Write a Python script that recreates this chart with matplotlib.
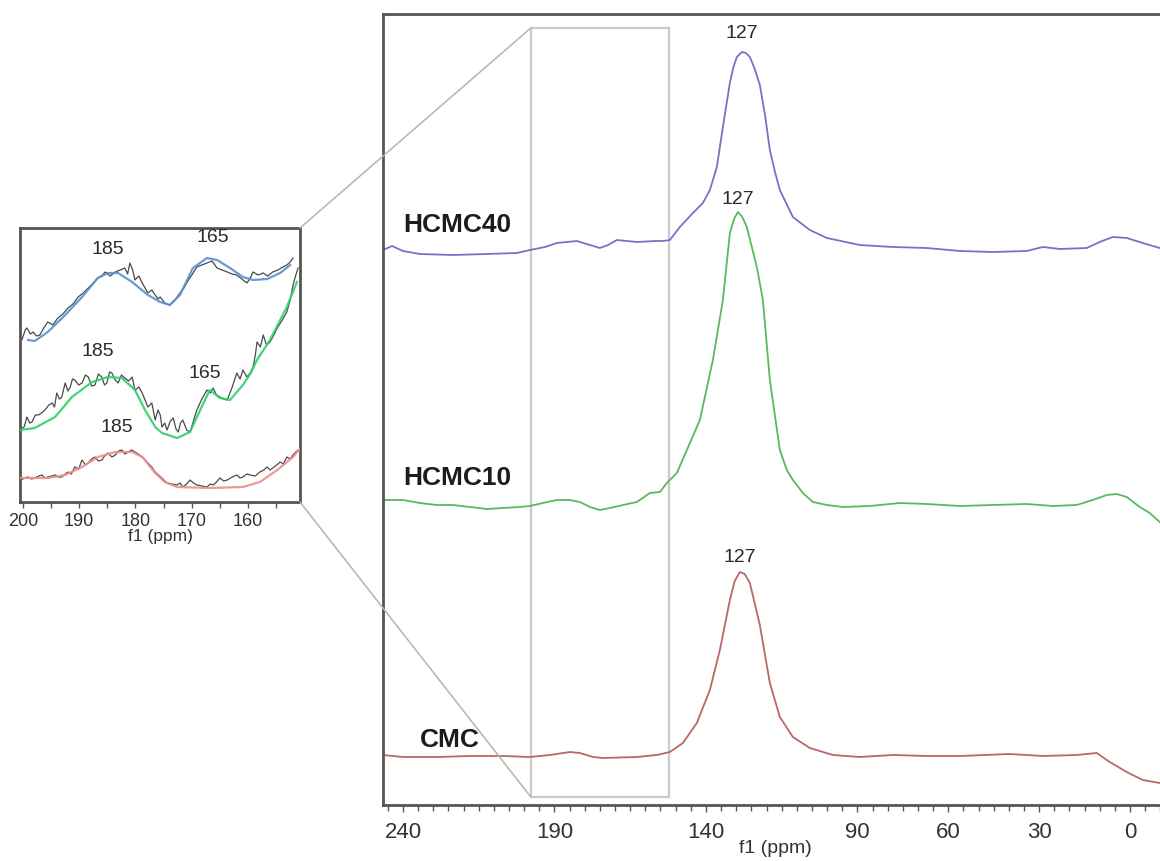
import matplotlib
matplotlib.use("Agg")
import matplotlib.pyplot as plt
from matplotlib import font_manager as fm
from matplotlib.patches import Rectangle, ConnectionPatch
from matplotlib.ticker import FixedLocator, MultipleLocator

# ---------------- data ----------------
# main spectra: chemical shift (ppm) and intensity relative to each baseline
hcmc40_ppm = [246.6, 243.6, 240.0, 234.4, 223.5, 212.3, 202.4, 198.1, 193.1, 189.2,
              182.6, 178.3, 175.0, 172.3, 169.4, 162.8, 156.8, 154.2, 151.9, 148.6,
              144.3, 141.0, 138.7, 136.4, 134.4, 133.2, 132.1, 130.9, 129.8, 128.1,
              126.8, 125.5, 124.0, 122.2, 120.5, 118.9, 117.2, 115.6, 111.3, 105.7,
              100.1, 89.2, 78.3, 67.1, 56.2, 45.3, 34.1, 28.8, 23.2, 14.3,
              10.0, 5.7, 1.1, -4.2, -9.8]
hcmc40_int = [2, 6, 1, -2, -3, -2, -1, 2, 5, 9,
              11, 7, 4, 7, 12, 10, 11, 11, 12, 25,
              39, 49, 62, 85, 125, 148, 169, 185, 195, 200,
              199, 195, 184, 167, 137, 102, 80, 62, 35, 22,
              14, 7, 5, 4, 1, 0, 1, 5, 3, 4,
              10, 15, 14, 9, 4]

hcmc10_ppm = [246.6, 240.0, 234.4, 228.8, 223.5, 217.9, 212.3, 207.0, 201.4, 198.1,
              193.8, 189.2, 184.9, 181.6, 178.3, 175.0, 171.7, 167.4, 162.8, 158.5,
              155.2, 152.9, 149.6, 146.3, 142.0, 137.7, 134.4, 132.1, 130.6, 129.4,
              128.0, 126.5, 123.2, 121.2, 118.9, 115.6, 113.3, 111.3, 108.0, 104.7,
              100.1, 94.8, 85.9, 76.0, 67.1, 56.2, 45.3, 34.1, 25.5, 17.6,
              12.3, 7.7, 4.4, 1.1, -3.2, -6.5, -9.8]
hcmc10_int = [5, 5, 2, 0, 0, -2, -4, -3, -2, -1,
              2, 5, 5, 3, -2, -5, -3, 0, 3, 12,
              13, 22, 32, 55, 85, 145, 205, 272, 287, 293,
              288, 278, 238, 205, 125, 55, 35, 25, 12, 3,
              0, -2, -1, 2, 1, -1, 0, 1, -1, 0,
              5, 10, 11, 8, -2, -8, -17]

cmc_ppm = [246.6, 240.0, 228.8, 217.9, 207.0, 198.1, 191.5, 184.9, 181.6, 177.3,
           174.0, 162.8, 156.2, 151.9, 147.6, 143.0, 138.7, 135.4, 132.1, 130.5,
           128.8, 127.2, 125.5, 122.2, 118.9, 115.6, 111.3, 105.7, 98.1, 89.2,
           78.3, 67.1, 56.2, 39.7, 28.8, 17.6, 11.0, 6.7, 1.1, -4.2, -9.8]
cmc_int = [2, 0, 0, 1, 1, 0, 2, 5, 4, 0,
           -1, 0, 2, 5, 14, 34, 67, 107, 157, 176,
           185, 183, 174, 132, 74, 40, 20, 9, 2, 0,
           2, 1, 1, 3, 1, 2, 4, -5, -15, -23, -26]

sample_names = ["HCMC40", "HCMC10", "CMC"]
peak_label = "127"
main_ticks = [240, 190, 140, 90, 60, 30, 0]

# inset (zoom 200-150 ppm): raw data and fitted curves
in40_ppm = [200.2, 199.6, 199.3, 198.7, 198.2, 197.6, 197.0, 196.3, 195.6, 194.7,
            193.8, 192.9, 192.0, 191.1, 190.2, 189.3, 188.4, 187.5, 186.7, 186.0,
            185.4, 184.5, 183.6, 182.7, 181.9, 181.4, 181.0, 180.5, 180.1, 179.4,
            178.8, 178.3, 177.8, 177.1, 176.5, 176.0, 175.6, 174.8, 173.9, 173.0,
            172.1, 171.4, 170.8, 170.0, 169.1, 168.2, 167.3, 166.4, 165.5, 164.6,
            163.7, 162.8, 162.0, 161.1, 160.2, 159.6, 159.1, 158.2, 157.3, 156.5,
            155.6, 154.7, 153.8, 153.1, 152.5, 152.0]
in40_int = [0, 10, 12, 6, 8, 4, 5, 12, 18, 15,
            22, 26, 32, 36, 43, 47, 52, 57, 62, 64,
            68, 64, 68, 70, 72, 66, 77, 70, 60, 64,
            57, 52, 47, 50, 45, 41, 43, 37, 35, 40,
            47, 52, 58, 65, 73, 75, 77, 79, 72, 70,
            68, 66, 65, 61, 57, 62, 68, 65, 67, 64,
            68, 70, 73, 75, 78, 82]
fit40_ppm = [199.1, 197.9, 195.6, 192.5, 189.5, 186.7, 184.9, 183.1, 180.6, 177.8,
             175.6, 173.9, 172.1, 169.8, 167.3, 165.5, 163.2, 160.9, 159.1, 156.6,
             154.3, 152.5]
fit40_int = [0, -1, 8, 25, 43, 62, 67, 67, 58, 45,
             38, 35, 45, 72, 82, 80, 72, 63, 60, 61,
             67, 75]

in10_ppm = [200.4, 199.8, 199.3, 198.8, 198.4, 197.8, 197.3, 196.7, 196.1, 195.4,
            194.8, 194.4, 194.0, 193.5, 193.1, 192.5, 192.0, 191.6, 191.2, 190.8,
            190.1, 189.5, 188.9, 188.4, 187.8, 187.2, 186.6, 186.0, 185.5, 185.1,
            184.6, 184.2, 183.6, 183.1, 182.5, 181.9, 181.2, 180.6, 180.1, 179.4,
            178.8, 178.3, 177.8, 177.1, 176.5, 176.0, 175.6, 175.3, 174.8, 174.4,
            173.8, 173.3, 172.8, 172.4, 172.0, 171.6, 170.9, 170.3, 169.7, 169.1,
            168.2, 167.3, 166.7, 166.2, 165.6, 165.0, 164.3, 163.7, 162.8, 162.0,
            161.4, 160.9, 160.2, 159.6, 159.1, 158.7, 158.4, 157.8, 157.3, 156.7,
            156.1, 155.4, 154.8, 153.9, 153.1, 152.5, 152.0, 151.5, 151.1]
in10_int = [6, 8, 18, 12, 13, 20, 20, 22, 25, 30,
            32, 28, 42, 36, 38, 52, 44, 48, 56, 55,
            50, 52, 60, 58, 49, 50, 61, 58, 50, 52,
            63, 62, 55, 52, 60, 57, 54, 58, 45, 48,
            42, 35, 28, 32, 15, 25, 20, 8, 12, 5,
            14, 17, 6, 3, 12, 15, 5, 3, 14, 25,
            36, 45, 42, 47, 40, 38, 36, 35, 48, 62,
            56, 65, 58, 62, 68, 80, 93, 88, 100, 90,
            93, 100, 107, 115, 123, 135, 150, 160, 167]
fit10_ppm = [200.5, 197.9, 194.3, 191.3, 187.7, 184.9, 182.4, 180.1, 178.3, 176.5,
             175.3, 172.6, 170.3, 168.5, 166.8, 165.0, 163.2, 160.9, 159.5, 158.4,
             156.1, 153.1, 151.3]
fit10_int = [5, 7, 18, 38, 53, 58, 57, 45, 25, 8,
             2, -3, 3, 25, 45, 37, 35, 50, 62, 75,
             95, 128, 153]

incmc_ppm = [200.4, 199.7, 199.1, 198.5, 197.9, 197.2, 196.6, 196.1, 195.6, 194.9,
             194.3, 193.7, 193.1, 192.5, 192.0, 191.4, 190.8, 190.1, 189.5, 188.9,
             188.4, 187.8, 187.2, 186.6, 186.0, 185.5, 184.9, 184.2, 183.6, 183.0,
             182.4, 181.9, 181.3, 180.7, 180.1, 179.5, 178.8, 178.3, 177.8, 177.1,
             176.5, 175.9, 175.3, 174.8, 174.4, 173.5, 172.6, 172.1, 171.6, 170.9,
             170.3, 169.7, 169.1, 168.2, 167.3, 166.7, 166.2, 165.6, 165.0, 164.3,
             163.7, 162.8, 162.0, 161.4, 160.9, 160.2, 159.6, 158.7, 157.9, 157.2,
             156.6, 156.1, 155.6, 154.9, 154.3, 153.7, 153.1, 152.5, 152.0, 151.5, 151.1]
incmc_int = [7, 9, 10, 8, 9, 11, 12, 9, 10, 11,
             12, 10, 10, 13, 15, 13, 20, 18, 27, 22,
             24, 28, 30, 26, 27, 31, 34, 30, 32, 36,
             37, 33, 35, 37, 35, 33, 30, 27, 24, 20,
             15, 12, 9, 6, 4, 3, 2, 4, 0, 3,
             7, 4, 2, 1, 0, 3, 2, 5, 9, 6,
             7, 10, 12, 9, 10, 13, 12, 11, 15, 17,
             20, 17, 19, 22, 25, 23, 30, 28, 32, 35, 37]
fitcmc_ppm = [200.5, 195.6, 192.5, 189.5, 186.7, 183.6, 180.6, 178.8, 176.5, 174.8,
              172.6, 166.8, 160.9, 157.9, 154.8, 152.0, 150.8]
fitcmc_int = [9, 9, 12, 20, 30, 35, 35, 30, 14, 5,
              0, -1, 0, 5, 17, 30, 38]

inset_ticks = [200, 190, 180, 170, 160]
zoom_range = (197.8, 152.2)

# ---------------- styling ----------------
names = {f.name for f in fm.fontManager.ttflist}
narrow = "Liberation Sans Narrow" if "Liberation Sans Narrow" in names else "Liberation Sans"
plt.rcParams["font.family"] = ["Liberation Sans", "DejaVu Sans"]

c_blue, c_green, c_red = "#7474c4", "#5cb85c", "#b86868"
f_blue, f_green, f_red = "#5b8fd0", "#2fcf6a", "#f08c8c"
c_raw = "#4a4a4a"
spine_c = "#555555"

fig = plt.figure(figsize=(11.6, 8.61), dpi=100)

# ---------------- main axes ----------------
W, H = 1160.0, 861.0
ax = fig.add_axes([383 / W, 1 - 805 / H, 784 / W, 791 / H])
ax.set_xlim(246.6, -12.2)
ax.set_ylim(0, 791)

offsets = [553, 300, 48]
series = [(hcmc40_ppm, hcmc40_int, c_blue),
          (hcmc10_ppm, hcmc10_int, c_green),
          (cmc_ppm, cmc_int, c_red)]
for (p, v, c), off in zip(series, offsets):
    ax.plot(p, [off + i for i in v], color=c, lw=1.3, solid_joinstyle="round")

# sample labels
ax.text(240.0, 580, sample_names[0], fontsize=19, fontweight="bold", color="#1c1c1c",
        ha="left", va="center")
ax.text(240.0, 327, sample_names[1], fontsize=19, fontweight="bold", color="#1c1c1c",
        ha="left", va="center")
ax.text(234.4, 65, sample_names[2], fontsize=19, fontweight="bold", color="#1c1c1c",
        ha="left", va="center")

# peak labels
for xp, yp in [(128.1, 772), (129.4, 605), (128.8, 248)]:
    ax.text(xp, yp, peak_label, fontsize=14, color="#2a2a2a", ha="center", va="center")

# zoom box
ax.add_patch(Rectangle((zoom_range[1], 8), zoom_range[0] - zoom_range[1], 769,
                       fill=False, edgecolor="#c9c9c9", lw=1.6))

for s in ["left", "top", "bottom"]:
    ax.spines[s].set_color(spine_c)
    ax.spines[s].set_linewidth(2.0)
ax.spines["right"].set_visible(False)
ax.set_yticks([])
ax.xaxis.set_major_locator(FixedLocator(main_ticks))
ax.xaxis.set_minor_locator(MultipleLocator(5))
ax.tick_params(axis="x", which="both", direction="out", color=spine_c, width=1.0)
ax.tick_params(axis="x", which="major", length=5, pad=7, labelsize=16, labelcolor="#333333")
ax.tick_params(axis="x", which="minor", length=4)
for lab in ax.get_xticklabels():
    lab.set_family(narrow)
ax.set_xlabel("f1 (ppm)", fontsize=14, color="#333333", family=narrow, labelpad=-2)

# ---------------- inset ----------------
axin = fig.add_axes([20 / W, 1 - 502 / H, 280 / W, 274 / H])
axin.set_xlim(200.53, 150.76)
axin.set_ylim(0, 274)
in_offsets = [162, 67, 15]
raws = [(in40_ppm, in40_int), (in10_ppm, in10_int), (incmc_ppm, incmc_int)]
fits = [(fit40_ppm, fit40_int, f_blue), (fit10_ppm, fit10_int, f_green),
        (fitcmc_ppm, fitcmc_int, f_red)]
for (p, v), off in zip(raws, in_offsets):
    axin.plot(p, [off + i for i in v], color=c_raw, lw=0.9, zorder=2)
for (p, v, c), off in zip(fits, in_offsets):
    axin.plot(p, [off + i for i in v], color=c, lw=1.6, zorder=3, alpha=0.9)

for xp, yp in [(184.9, 252), (166.2, 264), (186.7, 150), (167.6, 129), (183.3, 74)]:
    axin.text(xp, yp, "185" if xp > 175 else "165", fontsize=14, color="#2a2a2a",
              ha="center", va="center")

for s in axin.spines.values():
    s.set_color(spine_c)
    s.set_linewidth(2.0)
axin.set_yticks([])
axin.xaxis.set_major_locator(FixedLocator(inset_ticks))
axin.xaxis.set_minor_locator(MultipleLocator(5))
axin.tick_params(axis="x", which="both", direction="out", color=spine_c, width=1.0, length=4)
axin.tick_params(axis="x", which="major", pad=4, labelsize=13, labelcolor="#333333")
for lab in axin.get_xticklabels():
    lab.set_family(narrow)
axin.set_xlabel("f1 (ppm)", fontsize=12.5, color="#333333", family=narrow, labelpad=-1)

# connector lines from inset to zoom box
for ya, yb in [(1, 777), (0, 8)]:
    con = ConnectionPatch(xyA=(1, ya), coordsA=axin.transAxes,
                          xyB=(zoom_range[0], yb), coordsB=ax.transData,
                          color="#b4b4b4", lw=1.1)
    fig.add_artist(con)

fig.savefig("out.png", dpi=100)
